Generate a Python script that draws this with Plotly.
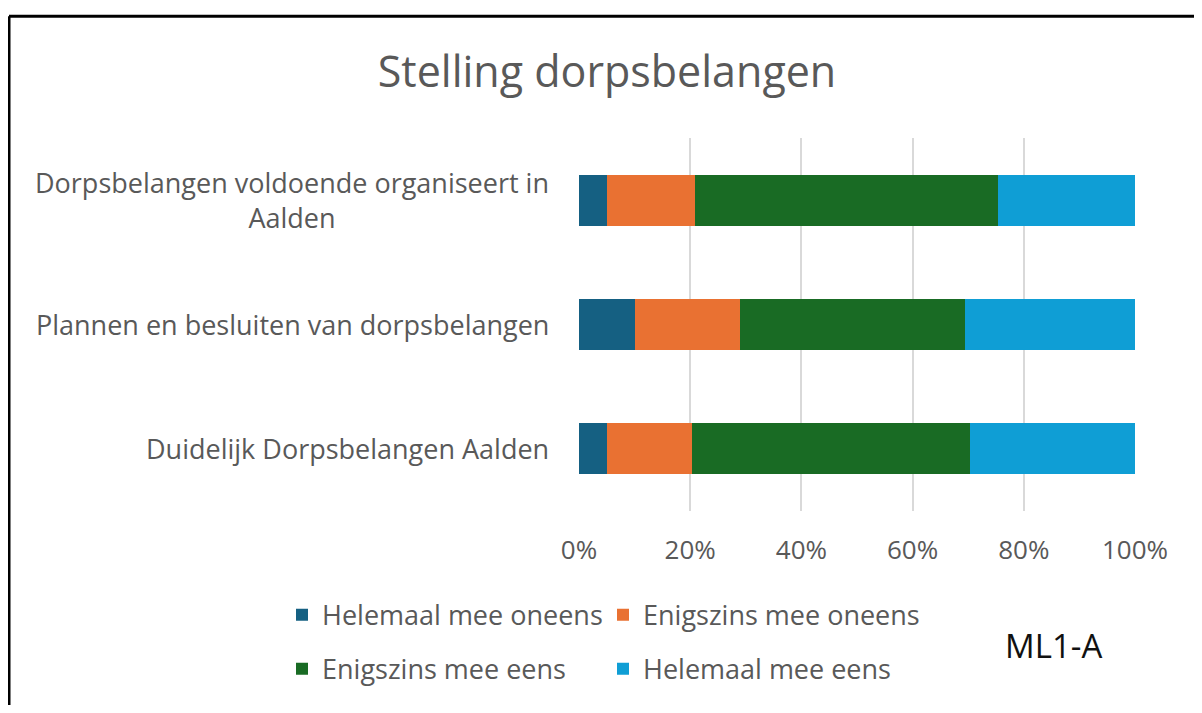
import plotly.graph_objects as go

categories = [
    "Dorpsbelangen voldoende organiseert in<br>Aalden",
    "Plannen en besluiten van dorpsbelangen",
    "Duidelijk Dorpsbelangen Aalden",
]
series_names = ["Helemaal mee oneens", "Enigszins mee oneens", "Enigszins mee eens", "Helemaal mee eens"]
helemaal_oneens = [5.1, 10.0, 5.1]
enigszins_oneens = [15.7, 18.9, 15.3]
enigszins_eens = [54.5, 40.5, 50.0]
helemaal_eens = [24.7, 30.6, 29.6]
series_values = [helemaal_oneens, enigszins_oneens, enigszins_eens, helemaal_eens]
colors = ["#156082", "#E97132", "#196B24", "#0F9ED5"]
tick_vals = [0, 20, 40, 60, 80, 100]
tick_text = ["0%", "20%", "40%", "60%", "80%", "100%"]

FONT = "Open Sans"
GRAY = "#595959"

OFF = 8  # page body margin
W, H = 1194, 697
plot_left, plot_right = 579 - OFF, 1135 - OFF
plot_top, plot_bottom = 137.5 - OFF, 512.5 - OFF
L, R, T, B = plot_left, W - plot_right, plot_top, H - plot_bottom
pw, ph = plot_right - plot_left, plot_bottom - plot_top

def px_x(p):  # screen pixel -> paper x
    return (p - OFF - plot_left) / pw

def px_y(p):  # screen pixel -> paper y
    return (plot_bottom - (p - OFF)) / ph

fig = go.Figure()
legends = ["legend", "legend", "legend2", "legend2"]
for name, vals, col, lg in zip(series_names, series_values, colors, legends):
    fig.add_trace(go.Bar(
        y=categories, x=vals, name=name, orientation="h",
        marker=dict(color=col, line=dict(width=0)),
        width=0.41, legend=lg,
    ))

for cat in categories:
    fig.add_annotation(
        x=px_x(551), xref="paper", y=cat, yref="y",
        text=cat, showarrow=False, xanchor="right", yanchor="middle",
        align="center", font=dict(family=FONT, size=27, color=GRAY),
    )

fig.add_annotation(
    x=px_x(1053), xref="paper", y=px_y(648), yref="paper",
    text="ML1-A", showarrow=False, xanchor="center", yanchor="middle",
    font=dict(family=FONT, size=33, color="#111111"),
)

# outer frame (top and left edges visible)
fig.add_shape(type="line", xref="paper", yref="paper",
              x0=px_x(9), x1=px_x(1215), y0=px_y(15), y1=px_y(15),
              line=dict(color="#000000", width=3))
fig.add_shape(type="line", xref="paper", yref="paper",
              x0=px_x(9), x1=px_x(9), y0=px_y(15), y1=px_y(730),
              line=dict(color="#000000", width=3))

legend_font = dict(family=FONT, size=27, color=GRAY)
fig.update_layout(
    width=W, height=H,
    margin=dict(l=L, r=R, t=T, b=B),
    paper_bgcolor="white", plot_bgcolor="white",
    barmode="stack",
    title=dict(text="Stelling dorpsbelangen", x=(607 - OFF) / W, xref="container",
               y=1 - (72 - OFF) / H, yref="container", xanchor="center", yanchor="middle",
               font=dict(family=FONT, size=43, color=GRAY)),
    xaxis=dict(range=[0, 100], tickvals=tick_vals, ticktext=tick_text,
               showgrid=True, gridcolor="#D9D9D9", gridwidth=2,
               zeroline=False, showline=False,
               ticks="outside", ticklen=16, tickcolor="rgba(0,0,0,0)",
               tickfont=dict(family=FONT, size=26, color=GRAY)),
    yaxis=dict(categoryorder="array", categoryarray=categories[::-1],
               showticklabels=False, showgrid=False, zeroline=False, showline=False),
    legend=dict(orientation="h", x=px_x(282), xanchor="left", y=px_y(616), yanchor="middle",
                font=legend_font, entrywidth=276, entrywidthmode="pixels",
                itemwidth=30, traceorder="normal", bgcolor="rgba(0,0,0,0)"),
    legend2=dict(orientation="h", x=px_x(282), xanchor="left", y=px_y(670), yanchor="middle",
                 font=legend_font, entrywidth=276, entrywidthmode="pixels",
                 itemwidth=30, traceorder="normal", bgcolor="rgba(0,0,0,0)"),
    showlegend=True,
)

fig.write_html("out.html")
